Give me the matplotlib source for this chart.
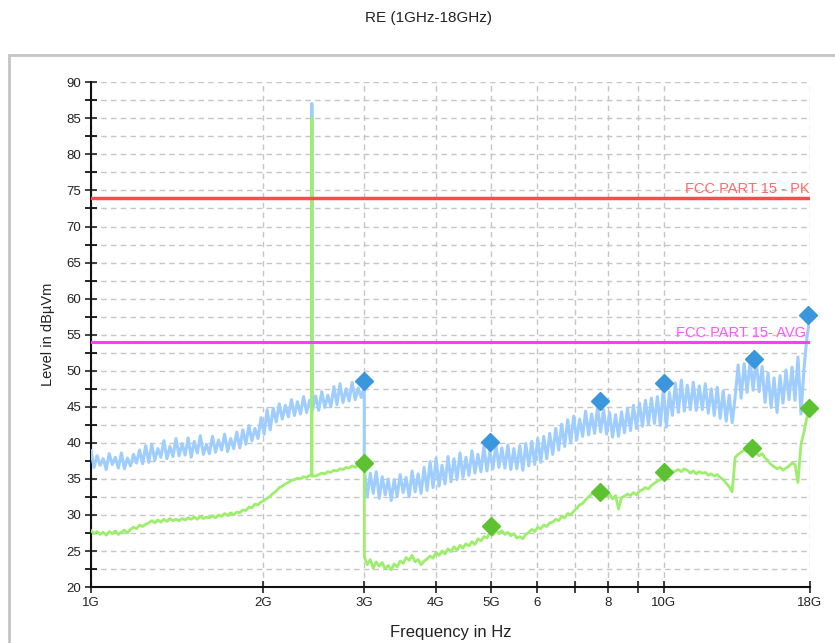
import numpy as np
import matplotlib
matplotlib.use('Agg')
import matplotlib.pyplot as plt
import matplotlib.ticker as ticker
from matplotlib.patches import Rectangle

plt.rcParams['font.family'] = ['Liberation Sans', 'DejaVu Sans']

#sweep 1: 1GHz-3GHz   sweep 2: 3GHz-18GHz
Band1_Start, Band1_Stop, Band1_Pts = 1e9, 3e9, 91
Band2_Start, Band2_Stop, Band2_Pts = 3e9, 18e9, 150

#peak trace (dBuV/m)
Peak_Band1 = [
    38.9, 36.6, 38.2, 36.9, 37.8, 36.3, 38.5, 37.0, 38.0, 36.5,
    38.6, 36.4, 37.9, 36.8, 38.4, 37.2, 39.0, 37.1, 39.6, 37.3,
    39.8, 37.6, 39.2, 38.0, 40.3, 37.8, 39.5, 38.1, 40.6, 38.2,
    39.9, 38.3, 40.7, 38.0, 40.2, 38.6, 41.0, 38.4, 39.8, 38.5,
    40.9, 38.7, 40.4, 39.0, 41.2, 38.8, 40.6, 39.2, 41.5, 39.3,
    41.8, 39.8, 42.4, 40.3, 42.0, 40.6, 43.5, 41.2, 44.6, 41.8,
    44.8, 42.9, 45.4, 43.3, 45.2, 43.6, 46.0, 43.8, 45.7, 44.0,
    46.4, 44.2, 45.9, 44.6, 46.5, 44.5, 47.1, 44.9, 46.6, 45.0,
    47.8, 45.3, 48.2, 45.6, 47.5, 45.8, 48.4, 46.0, 47.6, 46.3, 47.9]
Peak_Band2 = [
    36.4, 32.5, 35.8, 33.0, 36.0, 32.3, 35.3, 32.8, 35.0, 32.0,
    34.9, 32.6, 35.6, 33.1, 35.2, 32.5, 36.1, 33.2, 35.7, 33.0,
    36.6, 33.4, 37.4, 33.8, 37.9, 34.0, 36.9, 34.3, 38.1, 34.6,
    37.8, 34.9, 38.6, 35.2, 38.0, 35.5, 38.9, 35.8, 38.4, 36.0,
    39.5, 36.1, 38.9, 36.4, 39.8, 36.6, 39.3, 36.5, 39.7, 36.3,
    39.2, 36.4, 39.6, 36.2, 39.9, 36.8, 40.2, 37.0, 40.6, 37.3,
    40.9, 37.8, 41.3, 38.4, 42.0, 39.0, 42.6, 39.5, 43.2, 40.0,
    43.7, 40.4, 43.3, 40.9, 44.4, 41.1, 44.0, 41.3, 45.0, 41.5,
    44.6, 41.2, 44.2, 40.8, 43.9, 40.9, 44.3, 41.4, 44.8, 41.7,
    45.2, 42.0, 45.5, 42.3, 45.9, 42.6, 46.2, 42.7, 46.4, 42.4,
    47.6, 42.2, 47.0, 43.8, 48.3, 44.2, 48.7, 44.4, 48.0, 44.6,
    48.4, 44.5, 47.9, 44.6, 48.2, 44.1, 47.5, 43.8, 47.7, 43.4,
    47.2, 43.0, 46.6, 42.8, 46.4, 50.8, 46.2, 51.0, 47.0, 51.4,
    47.3, 51.5, 47.1, 50.6, 45.6, 49.7, 44.9, 49.0, 44.2, 49.3,
    45.5, 50.1, 46.0, 50.5, 45.9, 51.9, 44.0, 50.2, 54.7, 57.4]

#average trace
Avg_Band1 = [
    27.8, 27.4, 27.7, 27.3, 27.6, 27.2, 27.7, 27.4, 27.8, 27.3,
    27.6, 27.9, 27.5, 28.0, 28.3, 28.1, 28.6, 28.4, 28.7, 28.9,
    29.2, 28.9, 29.3, 29.0, 29.4, 29.1, 29.5, 29.2, 29.4, 29.2,
    29.5, 29.3, 29.6, 29.4, 29.7, 29.4, 29.8, 29.5, 29.7, 29.6,
    29.9, 29.6, 30.0, 29.8, 30.2, 29.9, 30.3, 30.0, 30.4, 30.3,
    30.7, 30.6, 31.1, 31.0, 31.5, 31.4, 31.8, 32.0, 32.3, 32.6,
    33.0, 33.3, 33.8, 34.0, 34.3, 34.5, 34.8, 34.9, 35.1, 35.0,
    35.3, 35.2, 35.5, 35.4, 35.4, 35.6, 35.8, 35.7, 36.0, 35.9,
    36.2, 36.1, 36.4, 36.3, 36.6, 36.5, 36.8, 36.6, 36.9, 36.8, 37.1]
Avg_Band2 = [
    24.2, 23.1, 23.8, 22.6, 23.5, 22.9, 23.4, 22.5, 23.0, 22.4,
    23.2, 22.8, 23.6, 23.3, 24.1, 23.7, 24.4, 23.5, 23.8, 23.1,
    23.6, 23.9, 24.3, 24.0, 24.8, 24.4, 25.0, 24.6, 25.3, 24.9,
    25.6, 25.1, 25.8, 25.4, 26.0, 25.7, 26.3, 25.9, 26.7, 26.4,
    27.0, 26.8, 27.6, 27.2, 27.9, 27.4, 27.8, 27.3, 27.6, 27.1,
    27.4, 26.8, 27.0, 26.7, 27.3, 27.6, 28.0, 27.7, 28.3, 28.1,
    28.6, 28.4, 28.9, 29.0, 29.4, 29.2, 29.8, 29.6, 30.2, 30.0,
    30.5, 30.9, 31.4, 31.6, 32.1, 32.5, 32.9, 33.1, 33.4, 33.2,
    33.0, 32.6, 32.9, 32.2, 32.7, 30.8, 32.4, 32.6, 32.9, 32.7,
    33.1, 32.8, 33.3, 33.5, 33.8, 33.6, 34.1, 34.4, 34.7, 34.9,
    35.3, 35.1, 35.6, 35.9, 36.1, 36.3, 36.0, 36.4, 36.2, 35.8,
    36.1, 35.7, 36.0, 35.8, 35.9, 35.5, 35.7, 35.4, 35.6, 35.2,
    34.9, 34.4, 33.9, 33.2, 38.0, 38.4, 38.7, 39.0, 38.8, 39.3,
    38.9, 38.6, 38.2, 38.5, 37.9, 37.5, 37.0, 36.7, 36.4, 36.6,
    36.2, 36.5, 36.8, 37.2, 37.0, 34.5, 39.8, 41.5, 43.6, 44.8]

#narrow emission at 2.43GHz (base, top, base)
Spike_Freq = 2.43e9
Peak_Spike = [45.0, 87.0, 45.0]
Avg_Spike = [35.4, 85.0, 35.4]

#final measurement points
PkMark_Freq = [3.0e9, 4.97e9, 7.74e9, 10.0e9, 14.4e9, 17.85e9]
PkMark_Level = [48.6, 40.1, 45.8, 48.3, 51.6, 57.7]
AvMark_Freq = [3.0e9, 5.0e9, 7.74e9, 10.0e9, 14.25e9, 17.9e9]
AvMark_Level = [37.2, 28.5, 33.2, 35.9, 39.3, 44.8]

#limit lines
Limit_PK = 74.0
Limit_AVG = 54.0

Xtick_Freq = [1e9, 2e9, 3e9, 4e9, 5e9, 6e9, 7e9, 8e9, 9e9, 10e9, 18e9]
Xtick_Label = ['1G', '2G', '3G', '4G', '5G', '6', '', '8', '', '10G', '18G']

#build sweep frequency axis, put the spike into band 1
Freq1 = np.geomspace(Band1_Start, Band1_Stop, Band1_Pts)
SpikeIdx = np.searchsorted(Freq1, Spike_Freq)
Freq1 = np.insert(Freq1, SpikeIdx, [Spike_Freq] * 3)
Peak1 = np.insert(np.array(Peak_Band1), SpikeIdx, Peak_Spike)
Avg1 = np.insert(np.array(Avg_Band1), SpikeIdx, Avg_Spike)

Freq = np.concatenate((Freq1, np.geomspace(Band2_Start, Band2_Stop, Band2_Pts)))
Peak = np.concatenate((Peak1, Peak_Band2))
Avg = np.concatenate((Avg1, Avg_Band2))

fig = plt.figure(figsize=(8.35, 6.43), dpi=100)
fig.patches.append(Rectangle((0.011, -0.1), 1.1, 1.0145, transform=fig.transFigure,
                             fill=False, edgecolor='#c4c4c4', linewidth=2))
fig.text(0.513, 0.972, 'RE (1GHz-18GHz)', ha='center', va='center', fontsize=11, color='#222222')

ax = fig.add_axes([0.109, 0.087, 0.861, 0.785])
ax.set_xscale('log')
ax.set_xlim(1e9, 18e9)
ax.set_ylim(20, 90)

ax.plot(Freq, Peak, color='#9fcdfd', linewidth=2.2, zorder=3)
ax.plot(Freq, Avg, color='#9cee6c', linewidth=2.0, zorder=4)

ax.axhline(Limit_PK, color='#ff4a4a', linewidth=2.5, zorder=5)
ax.axhline(Limit_AVG, color='#ff3dff', linewidth=2.2, zorder=5)
ax.text(18e9, Limit_PK + 0.3, 'FCC PART 15 - PK', ha='right', va='bottom',
        fontsize=10.5, color='#ff6a6a', zorder=6)
ax.text(17.7e9, Limit_AVG + 0.3, 'FCC PART 15- AVG', ha='right', va='bottom',
        fontsize=10.5, color='#ff55ff', zorder=6)

ax.plot(PkMark_Freq, PkMark_Level, linestyle='none', marker='D', markersize=9,
        color='#3a96dd', zorder=7, clip_on=False)
ax.plot(AvMark_Freq, AvMark_Level, linestyle='none', marker='D', markersize=9,
        color='#5cc232', zorder=7, clip_on=False)

#axis style
ax.xaxis.set_major_locator(ticker.FixedLocator(Xtick_Freq))
ax.xaxis.set_major_formatter(ticker.FixedFormatter(Xtick_Label))
ax.xaxis.set_minor_locator(ticker.NullLocator())
ax.yaxis.set_major_locator(ticker.MultipleLocator(5))
ax.yaxis.set_minor_locator(ticker.MultipleLocator(2.5))
ax.tick_params(axis='both', which='major', direction='inout', length=8, width=1.2,
               labelsize=9.5, colors='#222222', pad=3)
ax.tick_params(axis='y', which='minor', direction='inout', length=8, width=1.2)
ax.grid(which='both', color='#c6c6c6', linestyle=(0, (4, 3)), linewidth=1)
ax.set_axisbelow(True)
for s in ['top', 'right']:
    ax.spines[s].set_visible(False)
for s in ['left', 'bottom']:
    ax.spines[s].set_linewidth(1.5)
    ax.spines[s].set_color('#111111')

ax.set_xlabel('Frequency in Hz', fontsize=12, color='#222222', labelpad=12)
ax.set_ylabel('Level in dBµVm', fontsize=10.5, color='#222222', labelpad=8)

fig.savefig('out.png', dpi=100)
